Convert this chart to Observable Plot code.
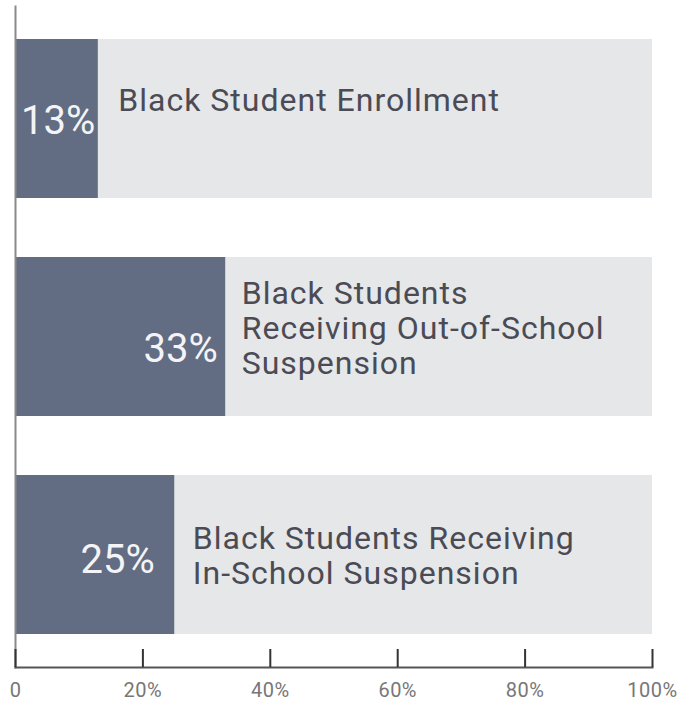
<!DOCTYPE html>
<html>
<head>
<meta charset="utf-8">
<script src="https://cdn.jsdelivr.net/npm/d3@7"></script>
<script src="https://cdn.jsdelivr.net/npm/@observablehq/plot@0.6"></script>
<style>
  html, body { margin: 0; padding: 0; background: #ffffff; }
  #chart { width: 681px; height: 712px; }
</style>
</head>
<body>
<div id="chart"></div>
<script>
// ---- data ----
const categories = [
  "Black Student Enrollment",
  "Black Students\nReceiving Out-of-School\nSuspension",
  "Black Students Receiving\nIn-School Suspension"
];
const values = [13, 33, 25];            // percent
const totals = [100, 100, 100];          // full-scale background
const tickValues = [0, 20, 40, 60, 80, 100];
const tickLabels = ["0", "20%", "40%", "60%", "80%", "100%"];

const rows = categories.map((c, i) => ({category: c, value: values[i], total: totals[i], label: values[i] + "%"}));

// per-row text nudges (style only)
const labelDy = [-19, -9, 0];
const pctDy = [2, 12, 5];
const pctDx = [-3, -8, -20];
const labelDx = [20, 16, 18];

const fontLabel = "Roboto, 'Noto Sans', sans-serif";

const marks = [
  Plot.barX(rows, {y: "category", x1: 0, x2: "total", fill: "#e6e7e9"}),
  Plot.barX(rows, {y: "category", x1: 0, x2: "value", fill: "#626c82"}),
];
rows.forEach((r, i) => {
  marks.push(Plot.text(rows, {
    filter: (d, j) => j === i,
    y: "category", x: "value", text: "label",
    textAnchor: "end", dx: pctDx[i], dy: pctDy[i],
    fill: "#f4f4f6", fontSize: 40, fontFamily: fontLabel, fontWeight: 400
  }));
  marks.push(Plot.text(rows, {
    filter: (d, j) => j === i,
    y: "category", x: "value", text: "category",
    textAnchor: "start", dx: labelDx[i], dy: labelDy[i],
    lineHeight: 1.1,
    fill: "#4a4b55", fontSize: 32, fontFamily: fontLabel
  }));
});
marks.push(
  Plot.frame({anchor: "left", stroke: "#8a8a8a", strokeWidth: 2}),
  Plot.frame({anchor: "bottom", stroke: "#555", strokeWidth: 2}),
  Plot.axisX({ticks: tickValues, tickSize: -18, text: null, stroke: "#333", strokeWidth: 2}),
  Plot.axisX({ticks: tickValues, tickSize: 0, tickPadding: 15,
    tickFormat: (d) => tickLabels[tickValues.indexOf(d)],
    fill: "#777", fontSize: 20, fontFamily: fontLabel})
);

const chart = Plot.plot({
  width: 681,
  height: 712,
  marginLeft: 15,
  marginRight: 29,
  marginTop: 6,
  marginBottom: 45,
  x: {domain: [0, 100], axis: null},
  y: {domain: categories, paddingInner: 0.27, paddingOuter: 0.146, axis: null},
  style: {background: "#ffffff", overflow: "visible"},
  marks
});
// letter spacing tweaks (style only), selected by the groups' font-size
d3.select(chart).selectAll('g[font-size="32"] text, g[font-size="32"] tspan').style("letter-spacing", "1px");
d3.select(chart).selectAll('g[font-size="20"] text').style("letter-spacing", "0.5px");
document.getElementById("chart").appendChild(chart);
</script>
</body>
</html>
